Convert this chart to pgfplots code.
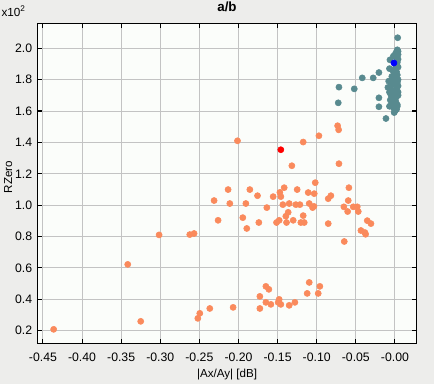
\documentclass[border=0pt]{standalone}
\usepackage{fontspec}
\setmainfont{Liberation Sans}
\usepackage{pgfplots}
\pgfplotsset{compat=1.18}
\definecolor{outerbg}{HTML}{EDEDEB}
\definecolor{innerbg}{HTML}{FBFDFA}
\definecolor{gridc}{HTML}{C3C3C3}
\definecolor{coral}{HTML}{FA8A5C}
\definecolor{tealc}{HTML}{588A8F}
\begin{document}
\begin{tikzpicture}
\fill[outerbg] (-27.98pt,-30.53pt) rectangle (297.53pt,257.48pt);
\useasboundingbox (-27.98pt,-30.53pt) rectangle (297.53pt,257.48pt);
\begin{axis}[
  at={(0,0)}, anchor=south west,
  scale only axis, width=284.55pt, height=240pt,
  xmin=-0.4572, xmax=0.0278, ymin=11.9, ymax=215.9,
  axis background/.style={fill=innerbg},
  axis line style={black, line width=0.8pt},
  grid=major, major grid style={gridc, line width=0.7pt},
  tick align=inside, major tick length=3.3pt,
  tick style={black, line width=0.8pt},
  xtick={-0.45,-0.40,-0.35,-0.30,-0.25,-0.20,-0.15,-0.10,-0.05,0},
  xticklabels={-0.45,-0.40,-0.35,-0.30,-0.25,-0.20,-0.15,-0.10,-0.05,-0.00},
  ytick={20,40,60,80,100,120,140,160,180,200},
  yticklabels={0.2,0.4,0.6,0.8,1.0,1.2,1.4,1.6,1.8,2.0},
  tick label style={font=\fontsize{9.2}{11}\selectfont},
  xticklabel style={yshift=-4.0pt},
  yticklabel style={xshift=-0.3pt},
  title={a/b},
  title style={font=\fontsize{10}{12}\selectfont\bfseries, at={(axis description cs:0.5,1.028)}, anchor=center},
  xlabel={|Ax/Ay| [dB]},
  xlabel style={font=\fontsize{8.7}{10}\selectfont, at={(axis description cs:0.5,-0.099)}, anchor=center},
  ylabel={RZero},
  ylabel style={font=\fontsize{8.7}{10}\selectfont, at={(axis description cs:-0.077,0.52)}, anchor=center, rotate=0},
  clip=false,
]
\addplot[only marks, mark=*, mark size=2.3pt, mark options={fill=coral, draw=coral}] coordinates {
(-0.2013,141.0) (-0.1173,140.2) (-0.0972,144.2) (-0.0733,150.6) (-0.0720,148.0)
(-0.1318,125.1) (-0.0716,126.4) (-0.2133,109.9) (-0.1855,109.9) (-0.2312,102.9)
(-0.2111,101.0) (-0.2261,90.3) (-0.1906,101.0) (-0.1757,106.0) (-0.1945,92.0)
(-0.1894,85.1) (-0.1740,88.9) (-0.1638,98.4) (-0.1557,105.4) (-0.1471,108.1)
(-0.1459,105.4) (-0.1416,111.1) (-0.1433,100.3) (-0.1352,101.0) (-0.1250,109.9)
(-0.1267,100.3) (-0.1215,100.3) (-0.1365,95.4) (-0.1395,92.9) (-0.1514,88.9)
(-0.1480,90.3) (-0.1386,88.9) (-0.1301,90.3) (-0.1173,93.3) (-0.1203,88.9)
(-0.1160,88.9) (-0.1109,108.0) (-0.1096,101.0) (-0.1053,98.4) (-0.1036,99.2)
(-0.1032,107.3) (-0.1019,114.3) (-0.0853,104.1) (-0.0819,106.0) (-0.0853,88.2)
(-0.0653,98.9) (-0.0605,95.9) (-0.0597,102.9) (-0.0589,111.1) (-0.0648,76.8)
(-0.0533,98.9) (-0.0482,98.9) (-0.0469,95.9) (-0.0435,83.8) (-0.0375,81.4)
(-0.0354,90.1) (-0.0307,88.2) (-0.0384,82.5) (-0.3015,81.0) (-0.2623,81.2)
(-0.2568,81.9) (-0.3416,62.2) (-0.4363,20.8) (-0.3250,25.9) (-0.2520,27.8)
(-0.2495,31.0) (-0.2367,34.1) (-0.2069,34.8) (-0.1727,41.8) (-0.1727,34.1)
(-0.1650,48.2) (-0.1612,46.3) (-0.1650,38.0) (-0.1586,36.7) (-0.1480,39.9)
(-0.1493,38.0) (-0.1459,36.7) (-0.1352,36.1) (-0.1279,38.0) (-0.1122,43.7)
(-0.1096,50.7) (-0.0981,43.7) (-0.0960,48.2)
};
\addplot[only marks, mark=*, mark size=2.3pt, mark options={fill=tealc, draw=tealc}] coordinates {
(0.0035,206.7) (-0.0716,175.2) (-0.0725,165.2) (-0.0520,174.1) (-0.0418,181.1)
(-0.0278,181.1) (-0.0205,184.5) (-0.0205,168.4) (-0.0205,162.7) (-0.0115,155.2)
(-0.0064,192.6)
(0.003,199) (0.004,198) (0.001,197) (0.004,196) (-0.002,195) (0.002,194)
(0.004,193) (0.003,191) (0.001,189) (0.004,188) (-0.007,187) (-0.003,186)
(0.002,185) (-0.001,184) (0.003,183) (-0.004,182) (0.001,181) (0.004,180)
(-0.002,179) (-0.008,179) (0.003,178) (0.000,177) (-0.005,176) (0.004,176)
(-0.009,175) (0.002,174) (-0.003,173) (0.004,172) (-0.007,172) (0.000,171)
(0.004,170) (-0.005,170) (0.002,169) (-0.002,168) (-0.006,167) (0.001,166)
(-0.004,165) (0.003,164) (-0.007,163) (-0.002,162) (0.003,163) (0.000,160)
(-0.001,159) (0.002,161)
};
\addplot[only marks, mark=*, mark size=2.3pt, mark options={fill=red, draw=red}] coordinates {(-0.1459,135.3)};
\addplot[only marks, mark=*, mark size=2.3pt, mark options={fill=blue, draw=blue}] coordinates {(-0.0013,190.6)};
\node[anchor=base west, font=\fontsize{8.8}{10}\selectfont, inner sep=0pt] at (axis description cs:-0.095,1.0197) {x10\textsuperscript{2}};
\end{axis}
\end{tikzpicture}
\end{document}
